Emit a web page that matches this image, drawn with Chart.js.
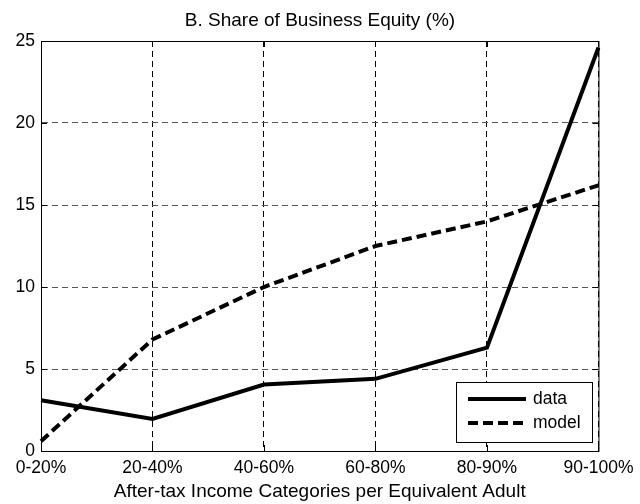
<!DOCTYPE html>
<html lang="en">
<head>
  <meta charset="UTF-8" />
  <title>B. Share of Business Equity (%)</title>
  <script src="https://cdn.jsdelivr.net/npm/chart.js"></script>
  <style>
    html, body { margin: 0; padding: 0; background: #fff; }
    #wrap { width: 640px; height: 504px; }
  </style>
</head>
<body>
  <div id="wrap"><canvas id="equityChart" width="640" height="504"></canvas></div>

  <script>
    const categories = ["0-20%", "20-40%", "40-60%", "60-80%", "80-90%", "90-100%"];
    const dataShare = [3.1, 1.95, 4.05, 4.4, 6.3, 24.6];
    const modelShare = [0.6, 6.8, 10.0, 12.5, 14.0, 16.2];
    const yTicks = [0, 5, 10, 15, 20, 25];

    const FONT = "'Liberation Sans', Arial, sans-serif";

    // box round the axes, inner tick marks and the legend box (MATLAB look)
    const frameAndLegend = {
      id: "frameAndLegend",
      afterDatasetsDraw(chart) {
        const ctx = chart.ctx;
        const a = chart.chartArea;
        const xs = chart.scales.x, ys = chart.scales.y;
        ctx.save();
        ctx.strokeStyle = "#000";
        ctx.lineWidth = 1;
        ctx.setLineDash([]);
        ctx.strokeRect(a.left + 0.5, a.top + 0.5, a.right - a.left, a.bottom - a.top);
        ctx.beginPath();
        categories.forEach((c, i) => {
          const px = Math.round(xs.getPixelForValue(i)) + 0.5;
          ctx.moveTo(px, a.bottom); ctx.lineTo(px, a.bottom - 6);
          ctx.moveTo(px, a.top); ctx.lineTo(px, a.top + 6);
        });
        yTicks.forEach(v => {
          const py = Math.round(ys.getPixelForValue(v)) + 0.5;
          ctx.moveTo(a.left, py); ctx.lineTo(a.left + 6, py);
          ctx.moveTo(a.right, py); ctx.lineTo(a.right - 6, py);
        });
        ctx.stroke();

        // legend
        const bx = 456, by = 382, bw = 136, bh = 60;
        ctx.fillStyle = "#fff";
        ctx.fillRect(bx, by, bw, bh);
        ctx.strokeRect(bx + 0.5, by + 0.5, bw, bh);
        ctx.font = "17.5px " + FONT;
        ctx.textBaseline = "middle";
        chart.data.datasets.forEach((ds, i) => {
          const ly = by + 17 + i * 24;
          ctx.save();
          ctx.strokeStyle = ds.borderColor;
          ctx.lineWidth = ds.borderWidth;
          ctx.setLineDash(ds.borderDash || []);
          ctx.beginPath();
          ctx.moveTo(bx + 12, ly);
          ctx.lineTo(bx + 70, ly);
          ctx.stroke();
          ctx.restore();
          ctx.fillStyle = "#000";
          ctx.fillText(ds.label, bx + 77, ly);
        });
        ctx.restore();
      }
    };

    new Chart(document.getElementById("equityChart"), {
      type: "line",
      data: {
        labels: categories,
        datasets: [
          {
            label: "data",
            data: dataShare,
            borderColor: "#000",
            borderWidth: 4,
            pointRadius: 0,
            tension: 0,
            fill: false
          },
          {
            label: "model",
            data: modelShare,
            borderColor: "#000",
            borderWidth: 4,
            borderDash: [10, 5],
            pointRadius: 0,
            tension: 0,
            fill: false
          }
        ]
      },
      options: {
        responsive: false,
        animation: false,
        layout: { padding: 0 },
        plugins: {
          legend: { display: false },
          tooltip: { enabled: false },
          title: {
            display: true,
            text: "B. Share of Business Equity (%)",
            color: "#000",
            font: { family: FONT, size: 19, weight: "normal" },
            padding: { top: 9.6, bottom: 8.6 }
          }
        },
        scales: {
          x: {
            type: "category",
            offset: false,
            grid: { color: "#000", lineWidth: 1, drawTicks: false },
            border: { display: true, color: "#000", dash: [6, 4] },
            ticks: {
              color: "#000",
              font: { family: FONT, size: 17.5 },
              padding: 6.5,
              maxRotation: 0,
              autoSkip: false
            },
            title: {
              display: true,
              text: "After-tax Income Categories per Equivalent Adult",
              color: "#000",
              font: { family: FONT, size: 19 },
              padding: { top: 1, bottom: 1 }
            },
            afterFit(scale) { scale.height = 53; }
          },
          y: {
            min: 0,
            max: 25,
            grid: { color: "#555", lineWidth: 1, drawTicks: false },
            border: { display: true, color: "#000", dash: [6, 4] },
            ticks: {
              stepSize: 5,
              color: "#000",
              font: { family: FONT, size: 17.5 },
              padding: 6
            },
            afterFit(scale) { scale.width = 41; }
          },
          // empty right-hand spacer so the plot box ends at x = 601
          yRight: {
            type: "linear",
            position: "right",
            min: 0,
            max: 25,
            grid: { display: false, drawTicks: false },
            border: { display: false },
            ticks: { display: false },
            afterFit(scale) { scale.width = 39; }
          }
        }
      },
      plugins: [frameAndLegend]
    });
  </script>
</body>
</html>
